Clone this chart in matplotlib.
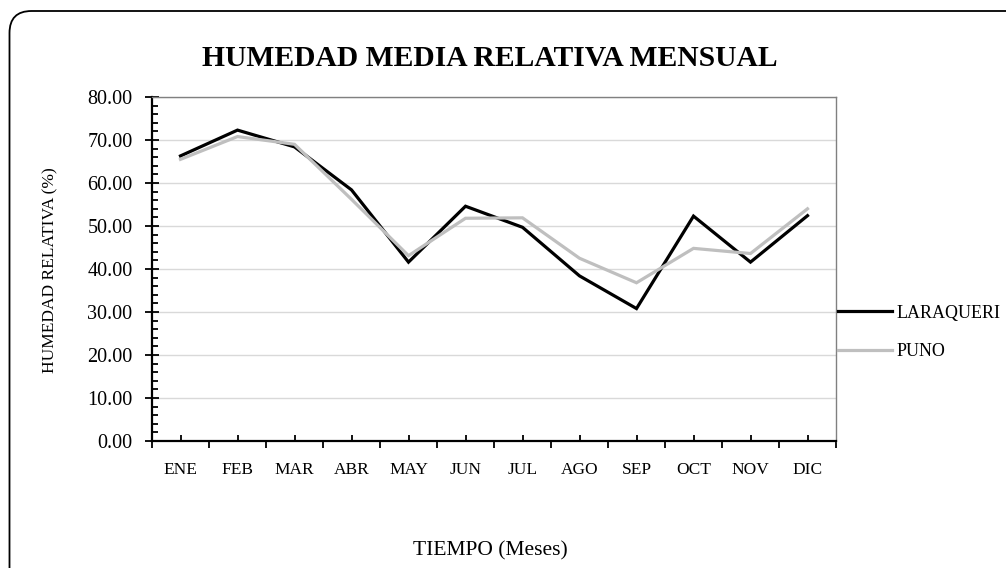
import matplotlib
matplotlib.use("Agg")
import matplotlib.pyplot as plt
from matplotlib.patches import FancyBboxPatch
from matplotlib.ticker import MultipleLocator, FixedLocator

plt.rcParams['font.family'] = ['Liberation Serif', 'DejaVu Serif']

# Datos
meses = ["ENE", "FEB", "MAR", "ABR", "MAY", "JUN", "JUL", "AGO", "SEP", "OCT", "NOV", "DIC"]
laraqueri = [66.3, 72.3, 68.4, 58.4, 41.6, 54.6, 49.7, 38.4, 30.8, 52.3, 41.6, 52.4]
puno = [65.5, 70.8, 69.0, 56.2, 43.1, 51.8, 51.9, 42.5, 36.8, 44.8, 43.6, 54.0]

fig = plt.figure(figsize=(10.06, 5.68), dpi=100)

# marco redondeado del grafico (en pixeles)
marco = FancyBboxPatch((9.5, -40), 1040, 597, boxstyle="round,pad=0,rounding_size=22",
                       transform=None, fill=False, edgecolor="black", linewidth=1.3)
fig.patches.append(marco)

ax = fig.add_axes([152 / 1006, 1 - 441 / 568, 684 / 1006, 344 / 568])

x = range(len(meses))
ax.plot(x, laraqueri, color="black", linewidth=2.3, label="LARAQUERI", solid_joinstyle="miter")
ax.plot(x, puno, color="#bfbfbf", linewidth=2.3, label="PUNO", solid_joinstyle="miter")

ax.set_xlim(-0.5, len(meses) - 0.5)
ax.set_ylim(0, 80)
ax.yaxis.set_major_locator(MultipleLocator(10))
ax.yaxis.set_minor_locator(MultipleLocator(2))
ax.yaxis.set_major_formatter(lambda v, p: f"{v:.2f}")
ax.grid(axis="y", color="#d9d9d9", linewidth=1)
ax.set_axisbelow(True)

# ticks de categoria: centros (etiquetas) y limites
ax.xaxis.set_major_locator(FixedLocator([i - 0.5 for i in range(len(meses) + 1)]))
ax.xaxis.set_minor_locator(FixedLocator(list(x)))
ax.set_xticklabels([])
ax.set_xticks(list(x), meses, minor=True)
ax.tick_params(axis="x", which="major", direction="out", length=5, width=1.3, color="black")
ax.tick_params(axis="x", which="minor", direction="in", length=4, width=1.3, color="black",
               labelsize=12.5, pad=15)
ax.tick_params(axis="y", which="major", direction="inout", length=10, width=1.3, labelsize=14.5, pad=9)
ax.tick_params(axis="y", which="minor", direction="in", length=4, width=1.3)

for s in ["left", "bottom"]:
    ax.spines[s].set_linewidth(1.6)
    ax.spines[s].set_color("black")
for s in ["top", "right"]:
    ax.spines[s].set_linewidth(1)
    ax.spines[s].set_color("#808080")

fig.text(50 / 1006, 1 - 270 / 568, "HUMEDAD RELATIVA (%)", rotation=90, ha="center", va="center",
         fontsize=12.5)
fig.text(490 / 1006, 1 - 551 / 568, "TIEMPO (Meses)", ha="center", va="center", fontsize=15.5)
fig.text(490 / 1006, 1 - 58 / 568, "HUMEDAD MEDIA RELATIVA MENSUAL", ha="center", va="center",
         fontsize=21.3, fontweight="bold")

ax.legend(loc="center left", bbox_to_anchor=(1.003, 0.315), frameon=False, fontsize=13,
          handlelength=3.0, handletextpad=0.22, borderaxespad=0, borderpad=0, labelspacing=1.2)

fig.savefig("out.png", dpi=100)
